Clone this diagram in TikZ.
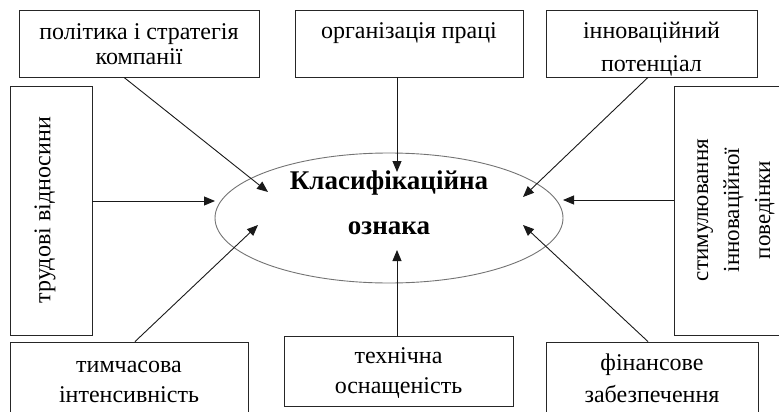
\documentclass[tikz,border=0pt]{standalone}
\usepackage{fontspec}
\setmainfont{Liberation Serif}
\usetikzlibrary{arrows.meta,shapes.geometric}
\tikzset{
  box/.style={draw=black!85, line width=0.8pt, inner sep=0pt},
  txt/.style={inner sep=0pt, anchor=base, font=\fontsize{24}{28}\selectfont},
  arr/.style={draw=black!90, line width=0.9pt, -{Triangle[length=11pt,width=9pt]}},
}
\begin{document}
\begin{tikzpicture}[x=1pt,y=-1pt]
\useasboundingbox (0,0) rectangle (779,412);
\clip (0,0) rectangle (779,412);
% boxes
\node[box, minimum width=240pt, minimum height=67pt] (tl) at (139,43.5) {};
\node[box, minimum width=228pt, minimum height=67pt] (tm) at (409,43.5) {};
\node[box, minimum width=211pt, minimum height=67pt] (tr) at (651.5,43.5) {};
\node[box, minimum width=82pt, minimum height=249pt] (lb) at (51,210.5) {};
\node[box, minimum width=130pt, minimum height=249pt] (rb) at (739,210.5) {};
\node[box, minimum width=238pt, minimum height=90pt] (bl) at (129,387) {};
\node[box, minimum width=229pt, minimum height=70pt] (bm) at (398.5,371) {};
\node[box, minimum width=212pt, minimum height=90pt] (br) at (652,387) {};
% ellipse
\node[ellipse, draw=black!55, line width=0.9pt, minimum width=348pt, minimum height=130pt, inner sep=0pt] (ell) at (389,218) {};
% texts
\node[txt] (tl1) at (139,40) {політика і стратегія};
\node[txt] (tl2) at (139,65) {компанії};
\node[txt] (tm1) at (409,39) {організація праці};
\node[txt] (tr1) at (651.5,39) {інноваційний};
\node[txt] (tr2) at (651.5,71) {потенціал};
\node[inner sep=0pt, rotate=90, font=\fontsize{24}{28}\selectfont] (lbt) at (45,210) {трудові відносини};
\node[inner sep=0pt, rotate=90, align=center, font=\fontsize{23}{31}\selectfont] (rbt) at (736,210) {стимулювання\\інноваційної\\поведінки};
\node[txt] (bl1) at (129,372) {тимчасова};
\node[txt] (bl2) at (129,402) {інтенсивність};
\node[txt] (bm1) at (398.5,363) {технічна};
\node[txt] (bm2) at (398.5,393) {оснащеність};
\node[txt] (br1) at (652,370) {фінансове};
\node[txt] (br2) at (652,402) {забезпечення};
\node[txt, font=\fontsize{27}{32}\selectfont\bfseries] (c1) at (389,189) {Класифікаційна};
\node[txt, font=\fontsize{27}{32}\selectfont\bfseries] (c2) at (389,234) {ознака};
% arrow tips
\coordinate (p1) at (268,192);
\coordinate (p2) at (397,172);
\coordinate (p3) at (523,197);
\coordinate (p4) at (215,201);
\coordinate (p5) at (563,200);
\coordinate (p6) at (258,225);
\coordinate (p7) at (397,250);
\coordinate (p8) at (523,225);
% connectors
\draw[arr] ([xshift=-15pt]tl.south) -- (p1);
\draw[arr] ([xshift=-12pt]tm.south) -- (p2);
\draw[arr] ([xshift=-3.5pt]tr.south) -- (p3);
\draw[arr] ([yshift=9.5pt]lb.east) -- (p4);
\draw[arr] ([yshift=10.5pt]rb.west) -- (p5);
\draw[arr] ([xshift=6pt]bl.north) -- (p6);
\draw[arr] ([xshift=-1.5pt]bm.north) -- (p7);
\draw[arr] ([xshift=-4pt]br.north) -- (p8);
\end{tikzpicture}
\end{document}
